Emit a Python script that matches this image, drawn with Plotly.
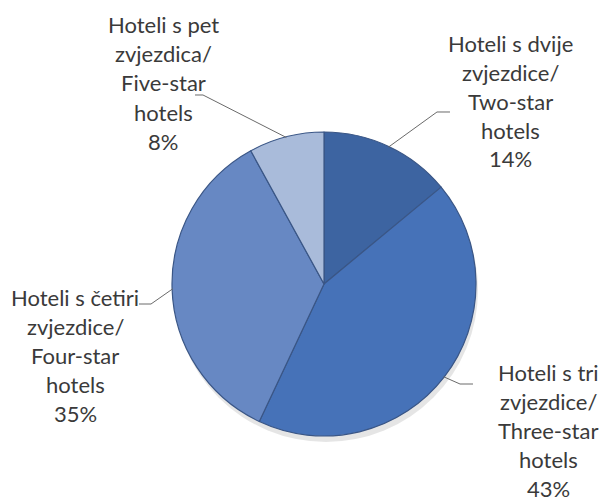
import numpy as np
import plotly.graph_objects as go

# ---- data ----
categories = ["Two-star hotels", "Three-star hotels", "Four-star hotels", "Five-star hotels"]
shares = [14, 43, 35, 8]
label_lines = [
    ["Hoteli s dvije", "zvjezdice/", "Two-star", "hotels"],
    ["Hoteli s tri", "zvjezdice/", "Three-star", "hotels"],
    ["Hoteli s četiri", "zvjezdice/", "Four-star", "hotels"],
    ["Hoteli s pet", "zvjezdica/", "Five-star", "hotels"],
]
colors = ["#3D64A1", "#4672B8", "#6788C3", "#A9BBDA"]

# ---- layout (pixels) ----
W, H = 601, 501
CX, CY, R = 324, 284, 152
label_pos = [(510, 43), (548, 372), (75, 297), (163, 25)]  # centre x, first line y
LINE = 29.0
leader_elbows = [((437, 112), (450, 112)), ((460, 384), (473, 384)),
                 ((151, 304), (139, 304)), ((203, 95), (195, 95))]
FONT = dict(family="Lato, 'Open Sans', sans-serif", size=22, color="#3a3a3a")


def px(x, y):
    return x / W, 1 - y / H


fig = go.Figure()
fig.add_trace(go.Pie(
    labels=categories, values=shares, sort=False, direction="clockwise",
    rotation=0, textinfo="none", hoverinfo="label+percent",
    marker=dict(colors=colors, line=dict(color="#3a5686", width=1.2)),
    domain=dict(x=[(CX - R) / W, (CX + R) / W], y=[1 - (CY + R) / H, 1 - (CY - R) / H]),
    showlegend=False,
))

shapes = []
# soft shadow under the pie
x0, y0 = px(CX - R + 2, CY - R + 6)
x1, y1 = px(CX + R + 2, CY + R + 6)
shapes.append(dict(type="circle", xref="paper", yref="paper", x0=x0, y0=y1, x1=x1, y1=y0,
                   fillcolor="rgba(0,0,0,0.10)", line=dict(width=0), layer="below"))

total = sum(shares)
cum = 0
annotations = []
for i, v in enumerate(shares):
    mid = 2 * np.pi * (cum + v / 2) / total
    cum += v
    sx, sy = CX + R * 0.995 * np.sin(mid), CY - R * 0.995 * np.cos(mid)
    (ex, ey), (fx, fy) = leader_elbows[i]
    p = [px(sx, sy), px(ex, ey), px(fx, fy)]
    path = "M {:.5f},{:.5f} L {:.5f},{:.5f} L {:.5f},{:.5f}".format(*p[0], *p[1], *p[2])
    shapes.append(dict(type="path", xref="paper", yref="paper", path=path,
                       line=dict(color="#6a6a6a", width=1)))
    lx, ly = label_pos[i]
    lines = label_lines[i] + [f"{v}%"]
    for j, t in enumerate(lines):
        ax, ay = px(lx, ly + j * LINE)
        annotations.append(dict(text=t, x=ax, y=ay, xref="paper", yref="paper",
                                xanchor="center", yanchor="middle", showarrow=False,
                                font=FONT))

fig.update_layout(
    width=W, height=H, margin=dict(l=0, r=0, t=0, b=0),
    paper_bgcolor="white", plot_bgcolor="white",
    shapes=shapes, annotations=annotations,
)
fig.write_html("out.html", config={"displayModeBar": False},
               post_script="document.body.style.margin='0';document.body.style.overflow='hidden';")
